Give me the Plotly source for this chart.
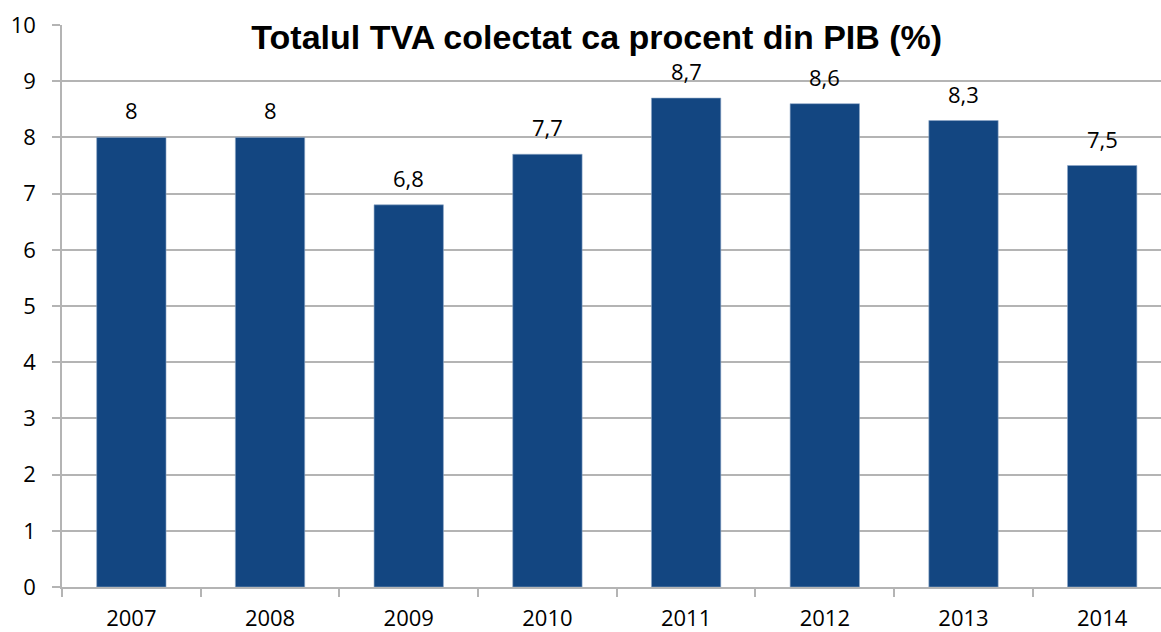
import plotly.graph_objects as go

years = ["2007", "2008", "2009", "2010", "2011", "2012", "2013", "2014"]
values = [8.0, 8.0, 6.8, 7.7, 8.7, 8.6, 8.3, 7.5]
labels = ["8", "8", "6,8", "7,7", "8,7", "8,6", "8,3", "7,5"]
title = "Totalul TVA colectat ca procent din PIB (%)"

grid = "#b4b4b4"
font = "Open Sans, Noto Sans, sans-serif"

fig = go.Figure()
fig.add_trace(go.Bar(
    x=years, y=values,
    marker=dict(color="#134681", line=dict(color="#8fa8c8", width=0.6)),
    width=0.5, hoverinfo="skip",
))
for i, (y, t) in enumerate(zip(values, labels)):
    fig.add_annotation(x=i, y=y, text=t, showarrow=False, yanchor="middle",
                       yshift=27, font=dict(family=font, size=22, color="#000000"))

fig.update_layout(
    width=1161, height=632,
    margin=dict(l=62, r=0, t=25, b=45),
    paper_bgcolor="white", plot_bgcolor="white",
    showlegend=False,
    title=dict(text="<b>" + title + "</b>", x=0.514, xanchor="center", y=0.942, yanchor="middle",
               font=dict(family="Liberation Sans, Arial, sans-serif", size=34, color="#000000")),
    xaxis=dict(type="category", range=[-0.5, 7.424], showgrid=False, automargin=False,
               showline=True, linecolor=grid, linewidth=1.5,
               ticks="outside", tickson="boundaries", ticklen=8, tickcolor=grid, tickwidth=1.5,
               ticklabelstandoff=11,
               tickfont=dict(family=font, size=22, color="#000000")),
    yaxis=dict(range=[0, 10], dtick=1, showgrid=True, gridcolor=grid, gridwidth=1.5,
               showline=True, linecolor=grid, linewidth=1.5, zeroline=False, automargin=False,
               ticks="outside", ticklen=8, tickcolor=grid, tickwidth=1.5,
               ticklabelstandoff=12,
               tickfont=dict(family=font, size=22, color="#000000")),
)
fig.write_html("out.html", config={"displayModeBar": False},
               post_script="document.body.style.margin='0';")
